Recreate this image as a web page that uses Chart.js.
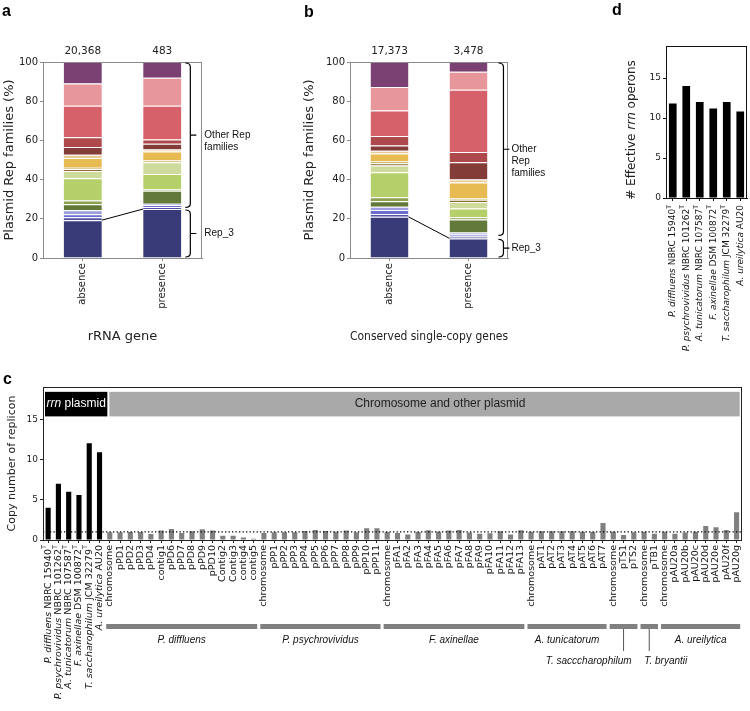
<!DOCTYPE html>
<html>
<head>
<meta charset="utf-8">
<script src="https://cdn.jsdelivr.net/npm/chart.js@4.4.0/dist/chart.umd.min.js"></script>
<style>
  html, body { margin: 0; padding: 0; background: #fff; }
  #wrap { position: relative; width: 750px; height: 711px; overflow: hidden; }
  canvas { position: absolute; left: 0; top: 0; }
</style>
</head>
<body>
<div id="wrap">
  <canvas id="panelA" width="750" height="711"></canvas>
  <canvas id="panelB" width="750" height="711"></canvas>
  <canvas id="panelC" width="750" height="711"></canvas>
  <canvas id="panelD" width="750" height="711"></canvas>
</div>
<script>
// ---- data ----
const repConditions = ['absence', 'presence'];
const repFamilies = ['Rep_3', 'Rep fam 2', 'Rep fam 3', 'Rep fam 4', 'Rep fam 5', 'Rep fam 6', 'Rep fam 7',
  'Rep fam 8', 'Rep fam 9', 'Rep fam 10', 'Rep fam 11', 'Rep fam 12', 'Rep fam 13', 'Rep fam 14',
  'Rep fam 15', 'Rep fam 16', 'Rep fam 17'];
// % of plasmid Rep families, bottom (Rep_3) to top
const rrnAbsence  = [19.3, 1.5, 1.5, 2.0, 3.1, 1.9, 11.4, 3.7, 1.0, 0.6, 5.0, 1.7, 3.9, 5.0, 16.1, 11.3, 11.0];
const rrnPresence = [25.0, 1.0, 1.0, 0.7, 6.6, 0.6, 8.0, 5.9, 0.3, 0.7, 4.6, 0.9, 3.0, 2.2, 17.2, 14.3, 8.0];
const scgAbsence  = [21.0, 1.5, 2.0, 1.7, 2.8, 2.0, 12.7, 3.5, 1.2, 0.8, 4.1, 1.4, 2.7, 4.8, 13.0, 12.0, 12.8];
const scgPresence = [10.0, 1.0, 1.0, 1.0, 6.7, 1.1, 4.4, 3.4, 1.1, 0.6, 8.2, 1.5, 8.8, 5.3, 31.8, 9.1, 5.0];
const rrnCounts = [20368, 483];
const scgCounts = [17373, 3478];
const pctTicks = [0, 20, 40, 60, 80, 100];

const strainSpecies = ['P. diffluens', 'P. psychrovividus', 'A. tunicatorum', 'F. axinellae', 'T. saccharophilum', 'A. ureilytica'];
const strainIds = ['NBRC 15940', 'NBRC 101262', 'NBRC 107587', 'DSM 100872', 'JCM 32279', 'AU20'];
const typeStrain = [true, true, true, true, true, false];
const rrnPlasmidCopies = [4.0, 7.0, 6.0, 5.6, 12.0, 10.9];
const effectiveRrn = [11.8, 14.0, 12.0, 11.2, 12.0, 10.8];
const copyTicks = [0, 5, 10, 15];

const groupNames = ['P. diffluens', 'P. psychrovividus', 'F. axinellae', 'A. tunicatorum', 'T. sacccharophilum', 'T. bryantii', 'A. ureilytica'];
const groupSizes = [15, 12, 14, 8, 3, 2, 8];
const replicons = [
  'chromosome', 'pPD1', 'pPD2', 'pPD3', 'pPD4', 'contig1', 'pPD6', 'pPD7', 'pPD8', 'pPD9', 'pPD10', 'Contig2', 'Contig3', 'contig4', 'contig5',
  'chromosome', 'pPP1', 'pPP2', 'pPP3', 'pPP4', 'pPP5', 'pPP6', 'pPP7', 'pPP8', 'pPP9', 'pPP10', 'pPP11',
  'chromosome', 'pFA1', 'pFA2', 'pFA3', 'pFA4', 'pFA5', 'pFA6', 'pFA7', 'pFA8', 'pFA9', 'pFA10', 'pFA11', 'pFA12', 'pFA13',
  'chromosome', 'pAT1', 'pAT2', 'pAT3', 'pAT4', 'pAT5', 'pAT6', 'pAT7',
  'chromosome', 'pTS1', 'pTS2',
  'chromosome', 'pTB1',
  'chromosome', 'pAU20a', 'pAU20b', 'pAU20c', 'pAU20d', 'pAU20e', 'pAU20f', 'pAU20g'];
const repliconCopies = [
  0.96, 0.96, 1.0, 1.0, 0.75, 1.17, 1.38, 0.88, 1.08, 1.33, 1.17, 0.54, 0.54, 0.3, 0.17,
  0.88, 0.96, 0.96, 0.96, 1.13, 1.25, 1.13, 1.04, 1.17, 0.96, 1.45, 1.45,
  1.0, 0.88, 0.67, 1.0, 1.2, 1.04, 1.17, 1.25, 0.92, 0.79, 0.83, 1.08, 0.67, 1.2,
  1.04, 1.08, 1.08, 1.08, 1.08, 1.04, 1.0, 2.1,
  1.04, 0.63, 0.96,
  1.04, 0.79,
  1.04, 0.79, 0.92, 1.04, 1.75, 1.58, 1.25, 3.46];

// ---- style ----
const tab20b = ['#393b79', '#5254a3', '#6b6ecf', '#9c9ede', '#637939', '#8ca252', '#b5cf6b', '#cedb9c',
  '#8c6d31', '#bd9e39', '#e7ba52', '#e7cb94', '#843c39', '#ad494a', '#d6616b', '#e7969c', '#7b4173'];
const FONT = '"DejaVu Sans", sans-serif';
const ARIAL = '"Liberation Sans", Arial, sans-serif';
Chart.defaults.font.family = FONT;
Chart.defaults.color = '#222';

function panelLetter(ctx, txt, x, y) {
  ctx.save();
  ctx.font = 'bold 16px ' + ARIAL;
  ctx.fillStyle = '#000';
  ctx.textBaseline = 'alphabetic';
  ctx.fillText(txt, x, y);
  ctx.restore();
}

function box(ctx, a, color) {
  ctx.save();
  ctx.strokeStyle = color;
  ctx.lineWidth = 1;
  ctx.strokeRect(Math.round(a.left) + 0.5, Math.round(a.top) + 0.5, Math.round(a.right - a.left) - 1, Math.round(a.bottom - a.top));
  ctx.restore();
}

function bracket(ctx, x, yTop, yBot) {
  const ym = (yTop + yBot) / 2;
  ctx.beginPath();
  ctx.moveTo(x - 5, yTop);
  ctx.quadraticCurveTo(x, yTop, x, yTop + 4);
  ctx.lineTo(x, yBot - 4);
  ctx.quadraticCurveTo(x, yBot, x - 5, yBot);
  ctx.moveTo(x, ym);
  ctx.lineTo(x + 6, ym);
  ctx.stroke();
  return ym;
}

// rotated tick label with italic species name and superscript T
function strainLabel(ctx, px, py, i, size) {
  ctx.save();
  ctx.translate(px, py);
  ctx.rotate(-Math.PI / 2);
  ctx.textBaseline = 'middle';
  ctx.textAlign = 'left';
  ctx.fillStyle = '#111';
  const fI = 'italic ' + size + 'px ' + FONT, fN = size + 'px ' + FONT, fS = (size * 0.7) + 'px ' + FONT;
  ctx.font = fI; const w1 = ctx.measureText(strainSpecies[i]).width;
  ctx.font = fN; const w2 = ctx.measureText(' ' + strainIds[i]).width;
  ctx.font = fS; const w3 = typeStrain[i] ? ctx.measureText('T').width : 0;
  let cx = -(w1 + w2 + w3);
  ctx.font = fI; ctx.fillText(strainSpecies[i], cx, 0); cx += w1;
  ctx.font = fN; ctx.fillText(' ' + strainIds[i], cx, 0); cx += w2;
  if (typeStrain[i]) { ctx.font = fS; ctx.fillText('T', cx, -size * 0.38); }
  ctx.restore();
}

function repPanel(id, absence, presence, counts, xTitle, letter, lay) {
  const extras = {
    id: 'extras' + id,
    afterDraw(chart) {
      const { ctx, chartArea: a, scales: { y } } = chart;
      box(ctx, a, '#8a8a8a');
      const meta = chart.getDatasetMeta(0);
      const b0 = meta.data[0].getProps(['x', 'y', 'width'], true);
      const b1 = meta.data[1].getProps(['x', 'y', 'width'], true);
      // Rep_3 connector
      ctx.save();
      ctx.strokeStyle = '#000';
      ctx.lineWidth = 1;
      ctx.beginPath();
      ctx.moveTo(b0.x + b0.width / 2, b0.y);
      ctx.lineTo(b1.x - b1.width / 2, b1.y);
      ctx.stroke();
      // sample counts
      ctx.font = '10.5px ' + FONT;
      ctx.fillStyle = '#222';
      ctx.textAlign = 'center';
      ctx.textBaseline = 'middle';
      ctx.fillText(counts[0].toLocaleString('en-US'), b0.x, a.top - 11);
      ctx.fillText(counts[1].toLocaleString('en-US'), b1.x, a.top - 11);
      // brackets
      const bx = b1.x + b1.width / 2 + lay.bracketGap;
      ctx.lineWidth = 1.2;
      const yOther = bracket(ctx, bx, y.getPixelForValue(100) + 1, y.getPixelForValue(presence[0] + lay.otherGap));
      const yRep = bracket(ctx, bx, y.getPixelForValue(presence[0] - 0.5), y.getPixelForValue(0) - 1);
      ctx.font = '10px ' + ARIAL;
      ctx.fillStyle = '#111';
      ctx.textAlign = 'left';
      lay.otherText.forEach((t, k) => ctx.fillText(t, bx + lay.textGap, yOther + k * 12));
      ctx.fillText('Rep_3', bx + lay.textGap, yRep);
      ctx.restore();
      panelLetter(ctx, letter, lay.letterX, lay.letterY);
    }
  };
  return new Chart(document.getElementById(id), {
    type: 'bar',
    data: {
      labels: repConditions,
      datasets: repFamilies.map((name, i) => ({
        label: name,
        data: [absence[i], presence[i]],
        backgroundColor: tab20b[i],
        borderColor: '#ffffff',
        borderWidth: { top: 1, bottom: 0, left: 0, right: 0 },
        borderSkipped: false,
        categoryPercentage: 1,
        barPercentage: 0.48
      }))
    },
    options: {
      responsive: false, animation: false, devicePixelRatio: 1,
      layout: { padding: { left: lay.left, top: 62, right: 750 - lay.right, bottom: 367 } },
      plugins: { legend: { display: false }, tooltip: { enabled: false } },
      scales: {
        x: {
          stacked: true,
          grid: { display: true, drawOnChartArea: false, offset: false, tickLength: 3, color: '#8a8a8a' },
          border: { color: '#8a8a8a' },
          ticks: { minRotation: 90, maxRotation: 90, padding: 2, font: { size: 10 }, color: '#222' },
          title: { display: true, text: xTitle, font: { size: 13 }, color: '#222', padding: 0 },
          afterFit: s => { s.height = 86; }
        },
        y: {
          stacked: true, min: 0, max: 100,
          afterBuildTicks: s => { s.ticks = pctTicks.map(v => ({ value: v })); },
          grid: { display: true, drawOnChartArea: false, tickLength: 3, color: '#8a8a8a' },
          border: { color: '#8a8a8a' },
          ticks: { padding: 2, font: { size: 10 }, color: '#222' },
          title: { display: true, text: 'Plasmid Rep families (%)', font: { size: 13 }, color: '#222', padding: 0 },
          afterFit: s => { s.width = lay.yWidth; }
        }
      }
    },
    plugins: [extras]
  });
}

repPanel('panelA', rrnAbsence, rrnPresence, rrnCounts, 'rRNA gene', 'a',
  { left: 2, yWidth: 41, right: 202, bracketGap: 9, otherGap: 0.8, textGap: 14, otherText: ['Other Rep', 'families'], letterX: 2, letterY: 16 });
repPanel('panelB', scgAbsence, scgPresence, scgCounts, 'Conserved single-copy genes', 'b',
  { left: 302, yWidth: 48, right: 508, bracketGap: 16, otherGap: 1.5, textGap: 8, otherText: ['Other', 'Rep', 'families'], letterX: 304, letterY: 17 });

// ---- panel c ----
const copyLabels = strainSpecies.map((s, i) => s + ' ' + strainIds[i]).concat(replicons);
const copyValues = rrnPlasmidCopies.concat(repliconCopies);
const nStrain = strainSpecies.length;

const panelCExtras = {
  id: 'panelCExtras',
  afterDatasetsDraw(chart) {
    const { ctx, chartArea: a, scales: { y } } = chart;
    const y1 = y.getPixelForValue(1);
    ctx.save();
    ctx.strokeStyle = '#000';
    ctx.lineWidth = 1.3;
    ctx.setLineDash([1.3, 2.2]);
    ctx.beginPath();
    ctx.moveTo(a.left, y1);
    ctx.lineTo(a.right, y1);
    ctx.stroke();
    ctx.restore();
  },
  afterDraw(chart) {
    const { ctx, chartArea: a, scales: { x, y } } = chart;
    box(ctx, a, '#222');
    const step = x.getPixelForValue(1) - x.getPixelForValue(0);
    // header boxes
    const split = x.getPixelForValue(nStrain - 1) + 0.86 * step;
    const hTop = y.getPixelForValue(18.4), hBot = y.getPixelForValue(15.35);
    ctx.save();
    ctx.fillStyle = '#000';
    ctx.fillRect(a.left + 2, hTop, split - 1 - (a.left + 2), hBot - hTop);
    ctx.fillStyle = '#a9a9a9';
    ctx.fillRect(split + 1, hTop, a.right - 2 - (split + 1), hBot - hTop);
    ctx.textBaseline = 'middle';
    ctx.font = '12px ' + ARIAL;
    ctx.fillStyle = '#222';
    ctx.textAlign = 'center';
    ctx.fillText('Chromosome and other plasmid', (split + a.right) / 2 + 15, (hTop + hBot) / 2);
    // "rrn plasmid"
    ctx.textAlign = 'left';
    ctx.font = 'italic 12px ' + ARIAL;
    const wI = ctx.measureText('rrn').width;
    ctx.font = '12px ' + ARIAL;
    const wN = ctx.measureText(' plasmid').width;
    let cx = (a.left + 2 + split - 1) / 2 - (wI + wN) / 2;
    ctx.fillStyle = '#fff';
    ctx.font = 'italic 12px ' + ARIAL;
    ctx.fillText('rrn', cx, (hTop + hBot) / 2);
    ctx.font = '12px ' + ARIAL;
    ctx.fillText(' plasmid', cx + wI, (hTop + hBot) / 2);
    ctx.restore();
    // strain labels
    for (let i = 0; i < nStrain; i++) strainLabel(ctx, x.getPixelForValue(i), a.bottom + 5, i, 9.5);
    // genome group bars + names
    ctx.save();
    let start = nStrain;
    const barTop = a.bottom + 84, barH = 5;
    groupNames.forEach((name, g) => {
      const end = start + groupSizes[g] - 1;
      const x0 = x.getPixelForValue(start) - 0.35 * step;
      const x1 = x.getPixelForValue(end) + 0.35 * step;
      ctx.fillStyle = '#808080';
      ctx.fillRect(x0, barTop, x1 - x0, barH);
      ctx.font = 'italic 10px ' + ARIAL;
      ctx.fillStyle = '#111';
      ctx.textBaseline = 'middle';
      const mid = (x0 + x1) / 2;
      if (name.startsWith('T.')) {
        ctx.strokeStyle = '#555';
        ctx.lineWidth = 1;
        ctx.beginPath();
        ctx.moveTo(mid, barTop + barH);
        ctx.lineTo(mid, barTop + barH + 22);
        ctx.stroke();
        if (name === 'T. bryantii') { ctx.textAlign = 'left'; ctx.fillText(name, mid - 5, barTop + 37); }
        else { ctx.textAlign = 'right'; ctx.fillText(name, mid + 8, barTop + 37); }
      } else {
        ctx.textAlign = 'center';
        ctx.fillText(name, mid, barTop + 16);
      }
      start = end + 1;
    });
    ctx.restore();
    panelLetter(ctx, 'c', 3, 384);
  }
};

new Chart(document.getElementById('panelC'), {
  type: 'bar',
  data: {
    labels: copyLabels,
    datasets: [{
      label: 'Copy number',
      data: copyValues,
      backgroundColor: copyValues.map((v, i) => i < nStrain ? '#000000' : '#808080'),
      categoryPercentage: 1,
      barPercentage: 0.5
    }]
  },
  options: {
    responsive: false, animation: false, devicePixelRatio: 1,
    layout: { padding: { left: 6, top: 387, right: 3, bottom: 0 } },
    plugins: { legend: { display: false }, tooltip: { enabled: false } },
    scales: {
      x: {
        grid: { display: true, drawOnChartArea: false, offset: false, tickLength: 3, color: '#222' },
        border: { color: '#222' },
        ticks: {
          autoSkip: false, minRotation: 90, maxRotation: 90, padding: 2, font: { size: 9.5 }, color: '#111',
          callback: function (v, i) { return i < nStrain ? '' : this.getLabelForValue(v); }
        },
        afterFit: s => { s.height = 171; }
      },
      y: {
        min: 0, max: 19,
        afterBuildTicks: s => { s.ticks = copyTicks.map(v => ({ value: v })); },
        grid: { display: true, drawOnChartArea: false, tickLength: 3, color: '#222' },
        border: { color: '#222' },
        ticks: { padding: 2, font: { size: 9 }, color: '#222' },
        title: { display: true, text: 'Copy number of replicon', font: { size: 11 }, color: '#222', padding: 0 },
        afterFit: s => { s.width = 37; }
      }
    }
  },
  plugins: [panelCExtras]
});

// ---- panel d ----
const panelDExtras = {
  id: 'panelDExtras',
  afterDraw(chart) {
    const { ctx, chartArea: a, scales: { x } } = chart;
    box(ctx, a, '#111');
    for (let i = 0; i < nStrain; i++) strainLabel(ctx, x.getPixelForValue(i), a.bottom + 7, i, 9);
    // y title with italic rrn
    ctx.save();
    ctx.translate(632, (a.top + a.bottom) / 2 + 8);
    ctx.rotate(-Math.PI / 2);
    ctx.textBaseline = 'middle';
    ctx.textAlign = 'left';
    ctx.fillStyle = '#222';
    const parts = [['# Effective ', ''], ['rrn', 'italic '], [' operons', '']];
    let total = 0;
    parts.forEach(p => { ctx.font = p[1] + '12px ' + FONT; total += ctx.measureText(p[0]).width; });
    let cx = -total / 2;
    parts.forEach(p => { ctx.font = p[1] + '12px ' + FONT; ctx.fillText(p[0], cx, 0); cx += ctx.measureText(p[0]).width; });
    ctx.restore();
    panelLetter(ctx, 'd', 612, 15);
  }
};

new Chart(document.getElementById('panelD'), {
  type: 'bar',
  data: {
    labels: strainSpecies.map((s, i) => s + ' ' + strainIds[i]),
    datasets: [{
      label: 'Effective rrn operons',
      data: effectiveRrn,
      backgroundColor: '#000000',
      categoryPercentage: 1,
      barPercentage: 0.57
    }]
  },
  options: {
    responsive: false, animation: false, devicePixelRatio: 1,
    layout: { padding: { left: 640, top: 46, right: 3, bottom: 363 } },
    plugins: { legend: { display: false }, tooltip: { enabled: false } },
    scales: {
      x: {
        grid: { display: true, drawOnChartArea: false, offset: false, tickLength: 3, color: '#111' },
        border: { color: '#111' },
        ticks: { display: false },
        afterFit: s => { s.height = 150; }
      },
      y: {
        min: 0, max: 19,
        afterBuildTicks: s => { s.ticks = copyTicks.map(v => ({ value: v })); },
        grid: { display: true, drawOnChartArea: false, tickLength: 3, color: '#111' },
        border: { color: '#111' },
        ticks: { padding: 2, font: { size: 9 }, color: '#222' },
        afterFit: s => { s.width = 26; }
      }
    }
  },
  plugins: [panelDExtras]
});
</script>
</body>
</html>
